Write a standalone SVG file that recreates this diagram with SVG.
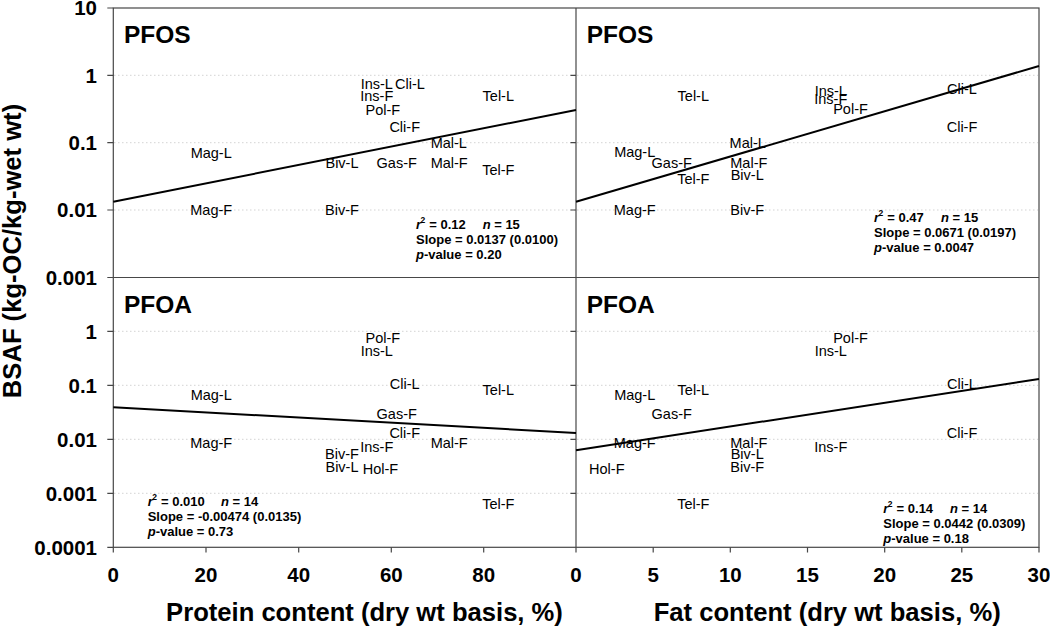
<svg xmlns="http://www.w3.org/2000/svg" width="1050" height="635" viewBox="0 0 1050 635">
<style>
  .frame{stroke:#474747;stroke-width:1.2;fill:none}
  .tick{stroke:#474747;stroke-width:1.2}
  .grid{stroke:#c8c8c8;stroke-width:0.8;stroke-dasharray:1.5 2.5}
  .reg{stroke:#000;stroke-width:2;fill:none}
  .lbl{font-family:"Liberation Sans",Arial,sans-serif;font-size:14.5px;fill:#000;text-anchor:middle}
  .ttl{font-family:"Liberation Sans",Arial,sans-serif;font-size:24.5px;font-weight:bold;fill:#000}
  .st{font-family:"Liberation Sans",Arial,sans-serif;font-size:13px;font-weight:bold;fill:#000}
  .it{font-style:italic}
  .sup{font-family:"Liberation Sans",Arial,sans-serif;font-size:8.5px;font-weight:bold;fill:#000}
  .yt{font-family:"Liberation Sans",Arial,sans-serif;font-size:20.5px;font-weight:bold;fill:#000;text-anchor:end}
  .xt{font-family:"Liberation Sans",Arial,sans-serif;font-size:20.5px;font-weight:bold;fill:#000;text-anchor:middle}
  .axt{font-family:"Liberation Sans",Arial,sans-serif;font-size:25.6px;font-weight:bold;fill:#000;text-anchor:middle}
</style>
<rect width="1050" height="635" fill="#fff"/>

<!-- gridlines -->
<g id="gridlines">
  <line class="grid" x1="114" y1="75.3" x2="575" y2="75.3"/>
  <line class="grid" x1="114" y1="142.7" x2="575" y2="142.7"/>
  <line class="grid" x1="114" y1="210" x2="575" y2="210"/>
  <line class="grid" x1="577" y1="75.3" x2="1038" y2="75.3"/>
  <line class="grid" x1="577" y1="142.7" x2="1038" y2="142.7"/>
  <line class="grid" x1="577" y1="210" x2="1038" y2="210"/>
  <line class="grid" x1="114" y1="331.3" x2="575" y2="331.3"/>
  <line class="grid" x1="114" y1="385.3" x2="575" y2="385.3"/>
  <line class="grid" x1="114" y1="439.3" x2="575" y2="439.3"/>
  <line class="grid" x1="114" y1="493.3" x2="575" y2="493.3"/>
  <line class="grid" x1="577" y1="331.3" x2="1038" y2="331.3"/>
  <line class="grid" x1="577" y1="385.3" x2="1038" y2="385.3"/>
  <line class="grid" x1="577" y1="439.3" x2="1038" y2="439.3"/>
  <line class="grid" x1="577" y1="493.3" x2="1038" y2="493.3"/>
</g>

<!-- frames and ticks -->
<g id="axes">
  <rect class="frame" x="113.3" y="8" width="925.7" height="539.3"/>
  <line class="frame" x1="576" y1="8" x2="576" y2="547.3"/>
  <line class="frame" x1="113.3" y1="277.5" x2="1039" y2="277.5"/>
  <path class="tick" d="M107.3 8H113.3M107.3 75.3H113.3M107.3 142.7H113.3M107.3 210H113.3M107.3 277.5H113.3M107.3 331.3H113.3M107.3 385.3H113.3M107.3 439.3H113.3M107.3 493.3H113.3M107.3 547.3H113.3"/>
  <path class="tick" d="M570.5 75.3H576M570.5 142.7H576M570.5 210H576M570.5 277.5H576M570.5 331.3H576M570.5 385.3H576M570.5 439.3H576M570.5 493.3H576"/>
  <path class="tick" d="M113.3 547.3V552.5M206 547.3V552.5M298.7 547.3V552.5M391.3 547.3V552.5M483.7 547.3V552.5M576 547.3V552.5M653.2 547.3V552.5M730.3 547.3V552.5M807.5 547.3V552.5M884.7 547.3V552.5M961.8 547.3V552.5M1039 547.3V552.5"/>
</g>

<g id="y-tick-labels">
  <text class="yt" x="97" y="15.3">10</text>
  <text class="yt" x="97" y="82.6">1</text>
  <text class="yt" x="97" y="150">0.1</text>
  <text class="yt" x="97" y="217.3">0.01</text>
  <text class="yt" x="97" y="284.8">0.001</text>
  <text class="yt" x="97" y="338.6">1</text>
  <text class="yt" x="97" y="392.6">0.1</text>
  <text class="yt" x="97" y="446.6">0.01</text>
  <text class="yt" x="97" y="500.6">0.001</text>
  <text class="yt" x="97" y="554.6">0.0001</text>
</g>

<g id="x-tick-labels">
  <text class="xt" x="113.3" y="581.7">0</text>
  <text class="xt" x="206" y="581.7">20</text>
  <text class="xt" x="298.7" y="581.7">40</text>
  <text class="xt" x="391.3" y="581.7">60</text>
  <text class="xt" x="483.7" y="581.7">80</text>
  <text class="xt" x="576" y="581.7">0</text>
  <text class="xt" x="653.2" y="581.7">5</text>
  <text class="xt" x="730.3" y="581.7">10</text>
  <text class="xt" x="807.5" y="581.7">15</text>
  <text class="xt" x="884.7" y="581.7">20</text>
  <text class="xt" x="961.8" y="581.7">25</text>
  <text class="xt" x="1039" y="581.7">30</text>
</g>

<g id="axis-titles">
  <text class="axt" x="364.5" y="621">Protein content (dry wt basis, %)</text>
  <text class="axt" x="827.2" y="621">Fat content (dry wt basis, %)</text>
  <text class="axt" transform="translate(21 251) rotate(-90)" x="0" y="0">BSAF (kg-OC/kg-wet wt)</text>
</g>

<!-- regression lines -->
<g id="connectors">
  <line class="reg" x1="113.3" y1="201.7" x2="576" y2="110"/>
  <line class="reg" x1="576" y1="201.7" x2="1039" y2="66"/>
  <line class="reg" x1="113.3" y1="407.3" x2="576" y2="433"/>
  <line class="reg" x1="576" y1="450.3" x2="1039" y2="379"/>
</g>

<g id="panel-pfos-protein">
  <text class="ttl" x="124" y="42.7">PFOS</text>
  <text class="lbl" x="376.8" y="89">Ins-L</text>
  <text class="lbl" x="410" y="89">Cli-L</text>
  <text class="lbl" x="376.8" y="101">Ins-F</text>
  <text class="lbl" x="498.3" y="101">Tel-L</text>
  <text class="lbl" x="382.8" y="114.7">Pol-F</text>
  <text class="lbl" x="404.7" y="132.3">Cli-F</text>
  <text class="lbl" x="448.8" y="148.3">Mal-L</text>
  <text class="lbl" x="211.2" y="158.3">Mag-L</text>
  <text class="lbl" x="342" y="168.3">Biv-L</text>
  <text class="lbl" x="396.7" y="168.3">Gas-F</text>
  <text class="lbl" x="449.2" y="168.3">Mal-F</text>
  <text class="lbl" x="498.3" y="175">Tel-F</text>
  <text class="lbl" x="211.2" y="215">Mag-F</text>
  <text class="lbl" x="342" y="215">Biv-F</text>
  <text class="st it" x="416" y="228.7">r</text><text class="sup" x="420.5" y="222.5">2</text><text class="st" x="429.3" y="228.7">= 0.12</text>
  <text class="st it" x="482.7" y="228.7">n</text><text class="st" x="494.2" y="228.7">= 15</text>
  <text class="st" x="416" y="244">Slope = 0.0137 (0.0100)</text>
  <text class="st" x="416" y="258.7"><tspan class="it">p</tspan>-value = 0.20</text>
</g>

<g id="panel-pfos-fat">
  <text class="ttl" x="586.7" y="42.7">PFOS</text>
  <text class="lbl" x="693.3" y="101">Tel-L</text>
  <text class="lbl" x="830.8" y="96">Ins-L</text>
  <text class="lbl" x="830.8" y="104">Ins-F</text>
  <text class="lbl" x="850.5" y="114.3">Pol-F</text>
  <text class="lbl" x="962" y="94.3">Cli-L</text>
  <text class="lbl" x="962" y="132.3">Cli-F</text>
  <text class="lbl" x="747.7" y="147.7">Mal-L</text>
  <text class="lbl" x="634.7" y="156.7">Mag-L</text>
  <text class="lbl" x="671.7" y="167.7">Gas-F</text>
  <text class="lbl" x="748.8" y="167.7">Mal-F</text>
  <text class="lbl" x="747.2" y="180">Biv-L</text>
  <text class="lbl" x="693.3" y="184.3">Tel-F</text>
  <text class="lbl" x="634.7" y="215">Mag-F</text>
  <text class="lbl" x="747.2" y="215">Biv-F</text>
  <text class="st it" x="874" y="221.7">r</text><text class="sup" x="878.5" y="215.5">2</text><text class="st" x="887.3" y="221.7">= 0.47</text>
  <text class="st it" x="941" y="221.7">n</text><text class="st" x="952.5" y="221.7">= 15</text>
  <text class="st" x="874" y="236.7">Slope = 0.0671 (0.0197)</text>
  <text class="st" x="874" y="251.7"><tspan class="it">p</tspan>-value = 0.0047</text>
</g>

<g id="panel-pfoa-protein">
  <text class="ttl" x="124" y="312.7">PFOA</text>
  <text class="lbl" x="382.8" y="342.7">Pol-F</text>
  <text class="lbl" x="376.8" y="356.3">Ins-L</text>
  <text class="lbl" x="404.7" y="389">Cli-L</text>
  <text class="lbl" x="498.3" y="395.3">Tel-L</text>
  <text class="lbl" x="211.2" y="400">Mag-L</text>
  <text class="lbl" x="396.7" y="419">Gas-F</text>
  <text class="lbl" x="404.7" y="437.7">Cli-F</text>
  <text class="lbl" x="211.2" y="447.7">Mag-F</text>
  <text class="lbl" x="449.2" y="447.7">Mal-F</text>
  <text class="lbl" x="376.8" y="452.3">Ins-F</text>
  <text class="lbl" x="342" y="459.3">Biv-F</text>
  <text class="lbl" x="342" y="472.3">Biv-L</text>
  <text class="lbl" x="380.5" y="474.3">Hol-F</text>
  <text class="lbl" x="498.3" y="508.7">Tel-F</text>
  <text class="st it" x="147.7" y="506">r</text><text class="sup" x="152.2" y="499.8">2</text><text class="st" x="161" y="506">= 0.010</text>
  <text class="st it" x="221" y="506">n</text><text class="st" x="232.5" y="506">= 14</text>
  <text class="st" x="147.7" y="520.7">Slope = -0.00474 (0.0135)</text>
  <text class="st" x="147.7" y="535.7"><tspan class="it">p</tspan>-value = 0.73</text>
</g>

<g id="panel-pfoa-fat">
  <text class="ttl" x="586.7" y="312.7">PFOA</text>
  <text class="lbl" x="850.5" y="342.7">Pol-F</text>
  <text class="lbl" x="830.8" y="356.3">Ins-L</text>
  <text class="lbl" x="962" y="389">Cli-L</text>
  <text class="lbl" x="693.3" y="395.3">Tel-L</text>
  <text class="lbl" x="634.7" y="400">Mag-L</text>
  <text class="lbl" x="671.7" y="419">Gas-F</text>
  <text class="lbl" x="962" y="437.7">Cli-F</text>
  <text class="lbl" x="634.7" y="447.7">Mag-F</text>
  <text class="lbl" x="748.8" y="447.7">Mal-F</text>
  <text class="lbl" x="830.8" y="452.3">Ins-F</text>
  <text class="lbl" x="747.2" y="459.3">Biv-L</text>
  <text class="lbl" x="747.2" y="472.3">Biv-F</text>
  <text class="lbl" x="606.8" y="474.3">Hol-F</text>
  <text class="lbl" x="693.3" y="508.7">Tel-F</text>
  <text class="st it" x="883.3" y="513.3">r</text><text class="sup" x="887.8" y="507.1">2</text><text class="st" x="896.6" y="513.3">= 0.14</text>
  <text class="st it" x="950" y="513.3">n</text><text class="st" x="961.5" y="513.3">= 14</text>
  <text class="st" x="883.3" y="528.3">Slope = 0.0442 (0.0309)</text>
  <text class="st" x="883.3" y="542.7"><tspan class="it">p</tspan>-value = 0.18</text>
</g>
</svg>
